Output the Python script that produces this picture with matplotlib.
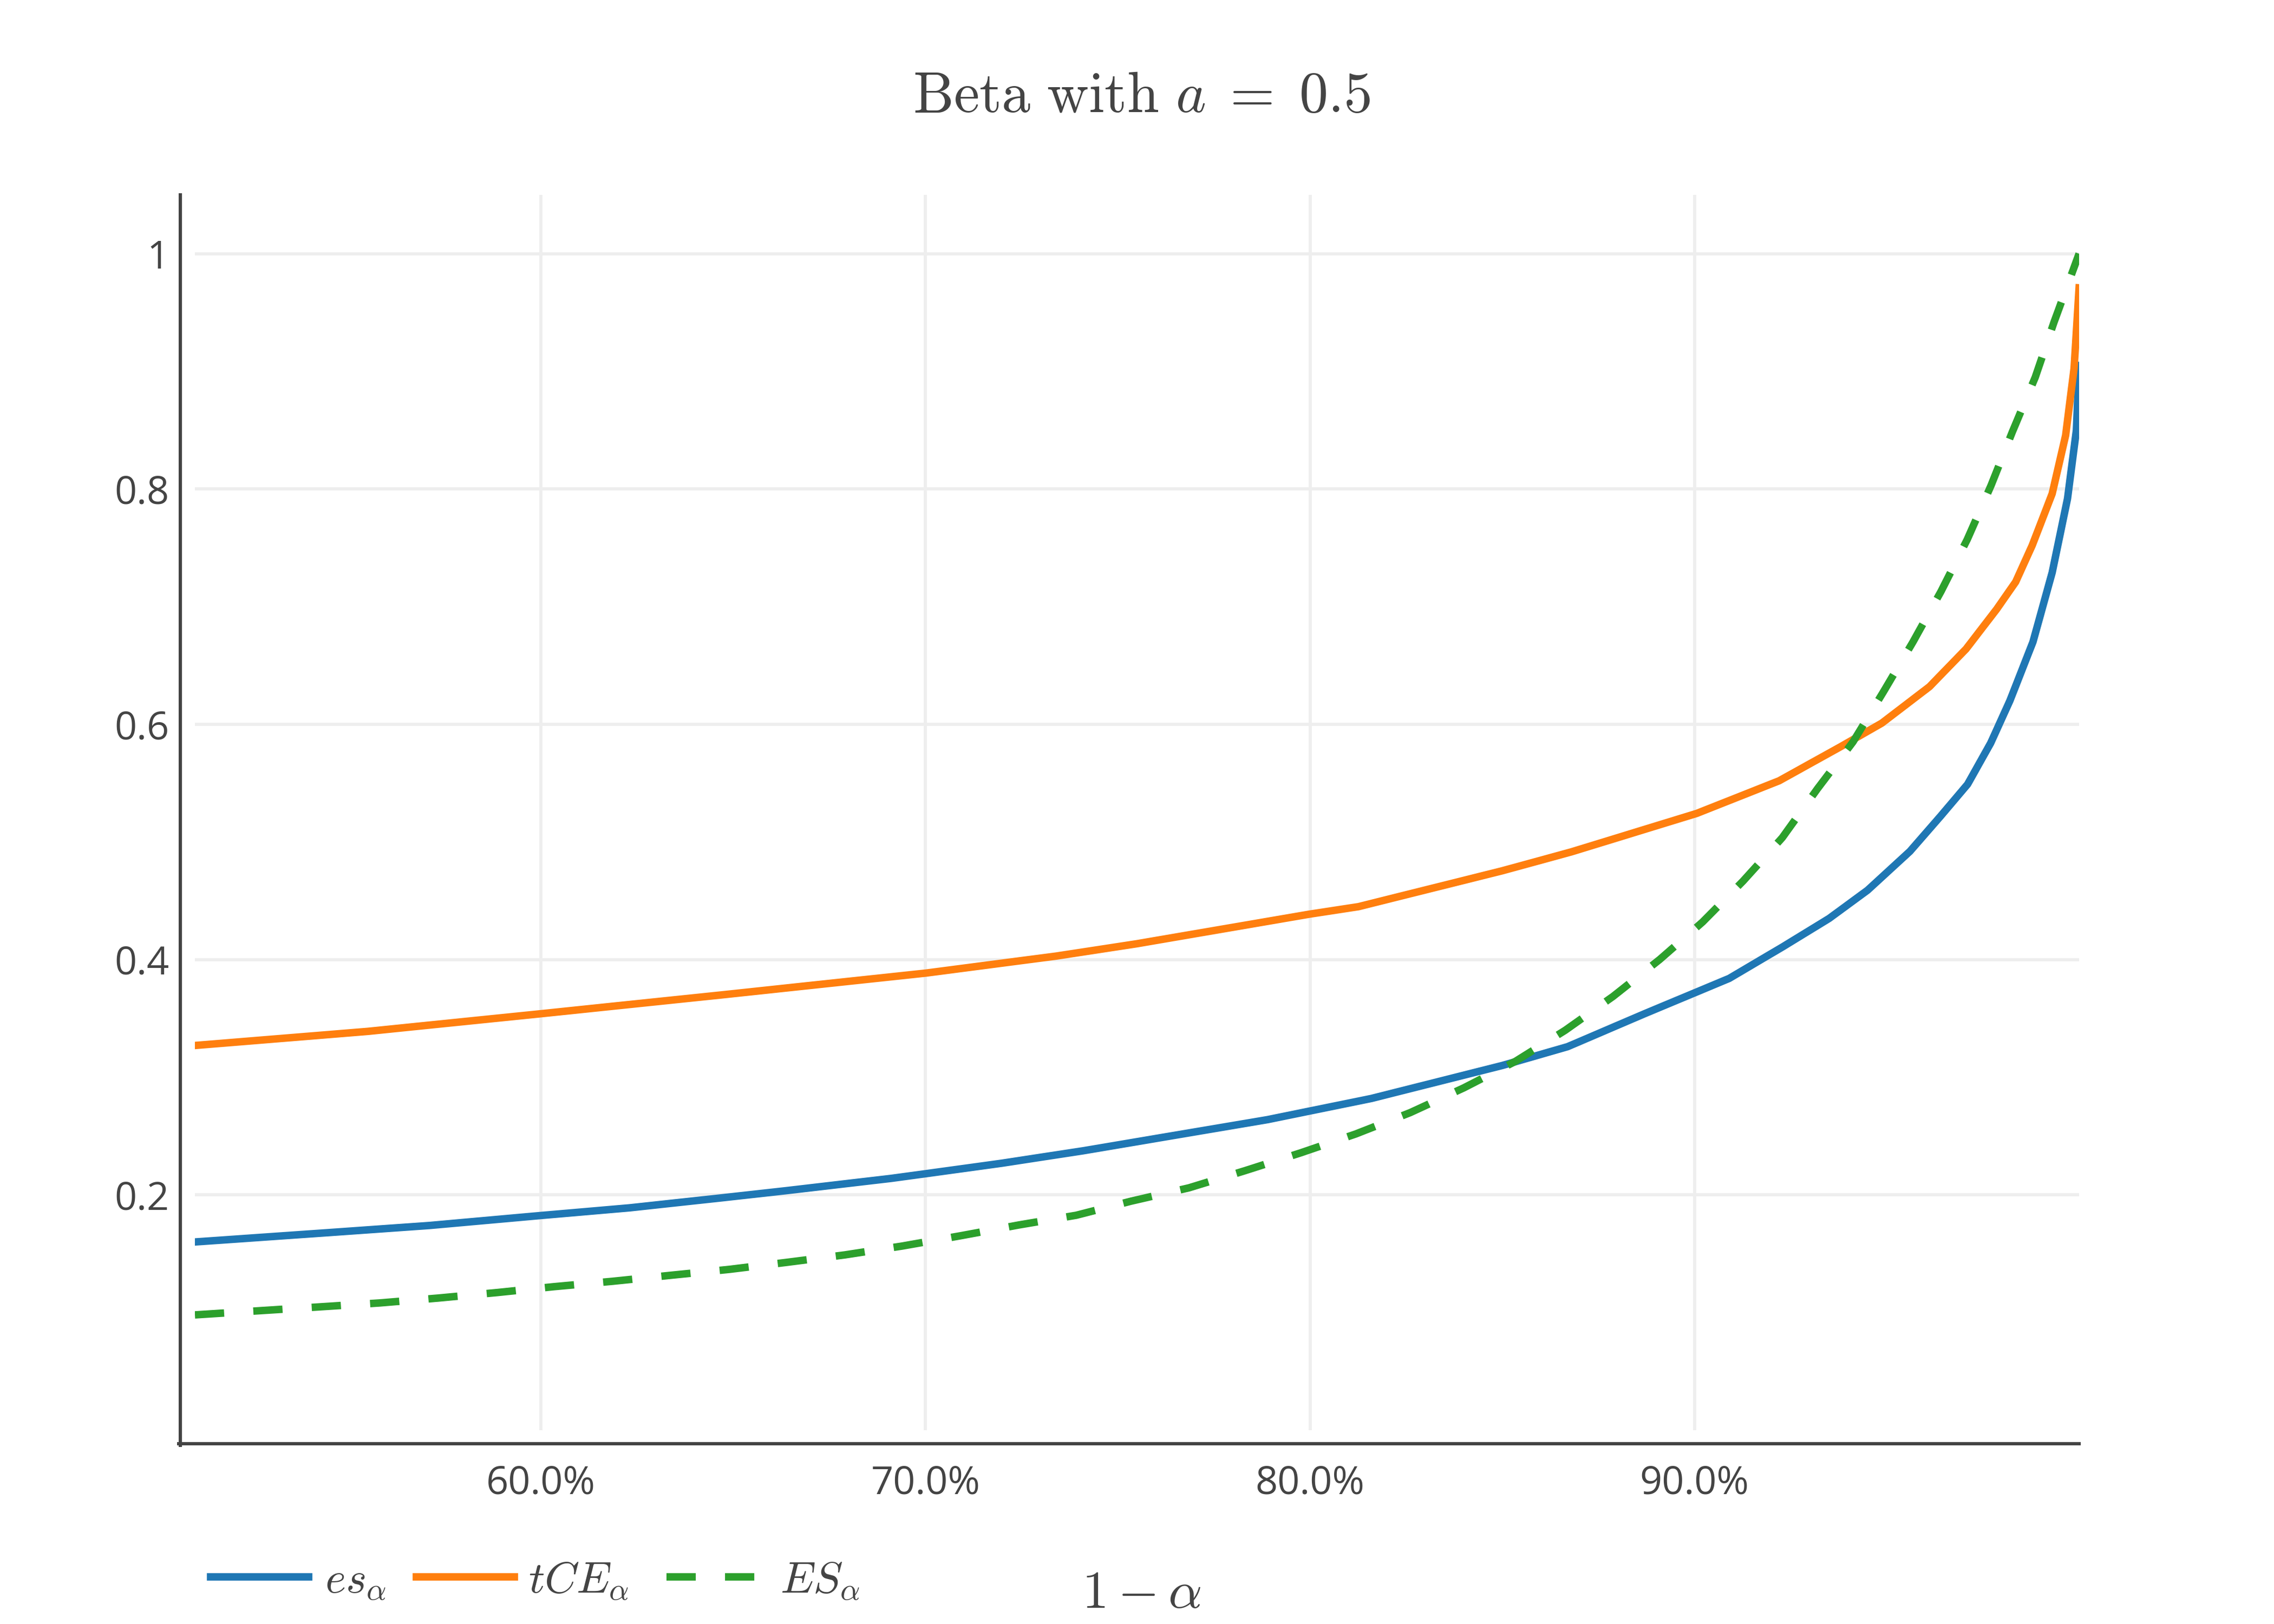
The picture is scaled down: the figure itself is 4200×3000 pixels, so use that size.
import matplotlib
matplotlib.use("Agg")
import matplotlib.pyplot as plt
from matplotlib.lines import Line2D
from matplotlib.ticker import FixedLocator, FuncFormatter

plt.rcParams["mathtext.fontset"] = "cm"
plt.rcParams["font.family"] = ["Open Sans", "DejaVu Sans"]

# values (x = 1 - alpha)
es_x = [0.51, 0.545, 0.571, 0.60, 0.623, 0.647, 0.6635, 0.691, 0.70, 0.7198,
        0.741, 0.789, 0.816, 0.850, 0.867, 0.887, 0.909, 0.923, 0.935, 0.945,
        0.956, 0.964, 0.971, 0.977, 0.982, 0.988, 0.993, 0.997, 0.9993, 1.0]
es_y = [0.160, 0.168, 0.174, 0.1825, 0.189, 0.1975, 0.2035, 0.214, 0.218, 0.2269,
        0.2375, 0.264, 0.282, 0.310, 0.326, 0.354, 0.384, 0.411, 0.435, 0.459,
        0.492, 0.522, 0.549, 0.584, 0.620, 0.670, 0.729, 0.792, 0.850, 0.905]

tce_x = [0.51, 0.555, 0.60, 0.647, 0.70, 0.734, 0.755, 0.80, 0.8126, 0.850,
         0.868, 0.9006, 0.922, 0.938, 0.9487, 0.9611, 0.9706, 0.9786, 0.9835,
         0.9878, 0.993, 0.9965, 0.9987, 1.0]
tce_y = [0.327, 0.339, 0.354, 0.370, 0.3885, 0.403, 0.4135, 0.4387, 0.4450, 0.4755,
         0.4916, 0.5243, 0.552, 0.581, 0.601, 0.632, 0.664, 0.698, 0.721,
         0.752, 0.796, 0.8456, 0.9026, 0.971]

ES_x = [0.51, 0.5275, 0.5428, 0.5582, 0.5732, 0.5886, 0.6034, 0.6187, 0.6338,
        0.649, 0.664, 0.679, 0.6939, 0.709, 0.7242, 0.7392, 0.7535, 0.7685,
        0.783, 0.7978, 0.8119, 0.8261, 0.840, 0.8534, 0.8664, 0.8788, 0.8909,
        0.9021, 0.9126, 0.9228, 0.932, 0.9412, 0.949, 0.9568, 0.9641, 0.9709,
        0.9771, 0.9827, 0.9886, 0.9935, 1.0]
ES_y = [0.098, 0.1017, 0.1049, 0.1082, 0.1123, 0.117, 0.122, 0.1266, 0.1317,
        0.1367, 0.1427, 0.149, 0.1565, 0.1652, 0.1744, 0.1827, 0.1947, 0.206,
        0.2205, 0.236, 0.2518, 0.270, 0.291, 0.3135, 0.340, 0.3687, 0.400,
        0.432, 0.4667, 0.5036, 0.5454, 0.585, 0.627, 0.670, 0.713, 0.757,
        0.803, 0.849, 0.895, 0.942, 1.0]

x_ticks = [0.6, 0.7, 0.8, 0.9]
y_ticks = [0.2, 0.4, 0.6, 0.8, 1.0]

names = [r"$es_\alpha$", r"$tCE_\alpha$", r"$ES_\alpha$"]
colors = ["#1f77b4", "#ff7f0e", "#2ca02c"]

txt = "#444444"
lw = 3.3
dash = (3.93, 3.93)

fig = plt.figure(figsize=(14, 10), dpi=300)
ax = fig.add_axes([360 / 4200, 1 - 2642 / 3000, 3480 / 4200, 2282 / 3000])

ax.plot(es_x, es_y, color=colors[0], lw=lw, solid_joinstyle="round")
ax.plot(tce_x, tce_y, color=colors[1], lw=lw, solid_joinstyle="round")
ax.plot(ES_x, ES_y, color=colors[2], lw=lw, dashes=dash, dash_capstyle="butt")

ax.set_xlim(0.51, 1.0)
ax.set_ylim(0, 1.05)

ax.xaxis.set_major_locator(FixedLocator(x_ticks))
ax.yaxis.set_major_locator(FixedLocator(y_ticks))
ax.xaxis.set_major_formatter(FuncFormatter(lambda v, p: f"{v * 100:.1f}%"))
ax.yaxis.set_major_formatter(FuncFormatter(lambda v, p: f"{v:g}"))
ax.tick_params(axis="x", length=0, pad=15, labelsize=17.3, labelcolor=txt)
ax.tick_params(axis="y", length=0, pad=11.4, labelsize=17.3, labelcolor=txt)

ax.grid(True, color="#eeeeee", lw=1.4)
ax.set_axisbelow(True)
for s in ax.spines.values():
    s.set_visible(False)

# axis lines sit a little outside the plotting area, like in plotly
fig.add_artist(Line2D([333 / 4200, 333 / 4200], [1 - 2670 / 3000, 1 - 360 / 3000],
                      transform=fig.transFigure, color=txt, lw=1.44))
fig.add_artist(Line2D([330 / 4200, 3840 / 4200], [1 - 2667 / 3000, 1 - 2667 / 3000],
                      transform=fig.transFigure, color=txt, lw=1.44))

fig.text(0.502, 1 - 207 / 3000, r"$\mathrm{Beta\ with\ }a\;=\;0.5$",
         ha="center", va="baseline", fontsize=25.5, color=txt)
fig.text(2108 / 4200, 1 - 2970 / 3000, r"$1-\alpha$",
         ha="center", va="baseline", fontsize=23.5, color=txt)

# horizontal legend at the bottom left
leg_line = [(389, 570), (769, 950), (1231, 1411)]
leg_text = [600, 976, 1441]
ly = 1 - 2913 / 3000
for i in range(3):
    x0, x1 = leg_line[i]
    kw = dict(dashes=dash, dash_capstyle="butt") if i == 2 else {}
    fig.add_artist(Line2D([x0 / 4200, x1 / 4200], [ly, ly], transform=fig.transFigure,
                          color=colors[i], lw=lw, **kw))
    fig.text(leg_text[i] / 4200, 1 - 2943 / 3000, names[i], ha="left", va="baseline",
             fontsize=19.7, color=txt)

fig.savefig("out.png", dpi=300)
